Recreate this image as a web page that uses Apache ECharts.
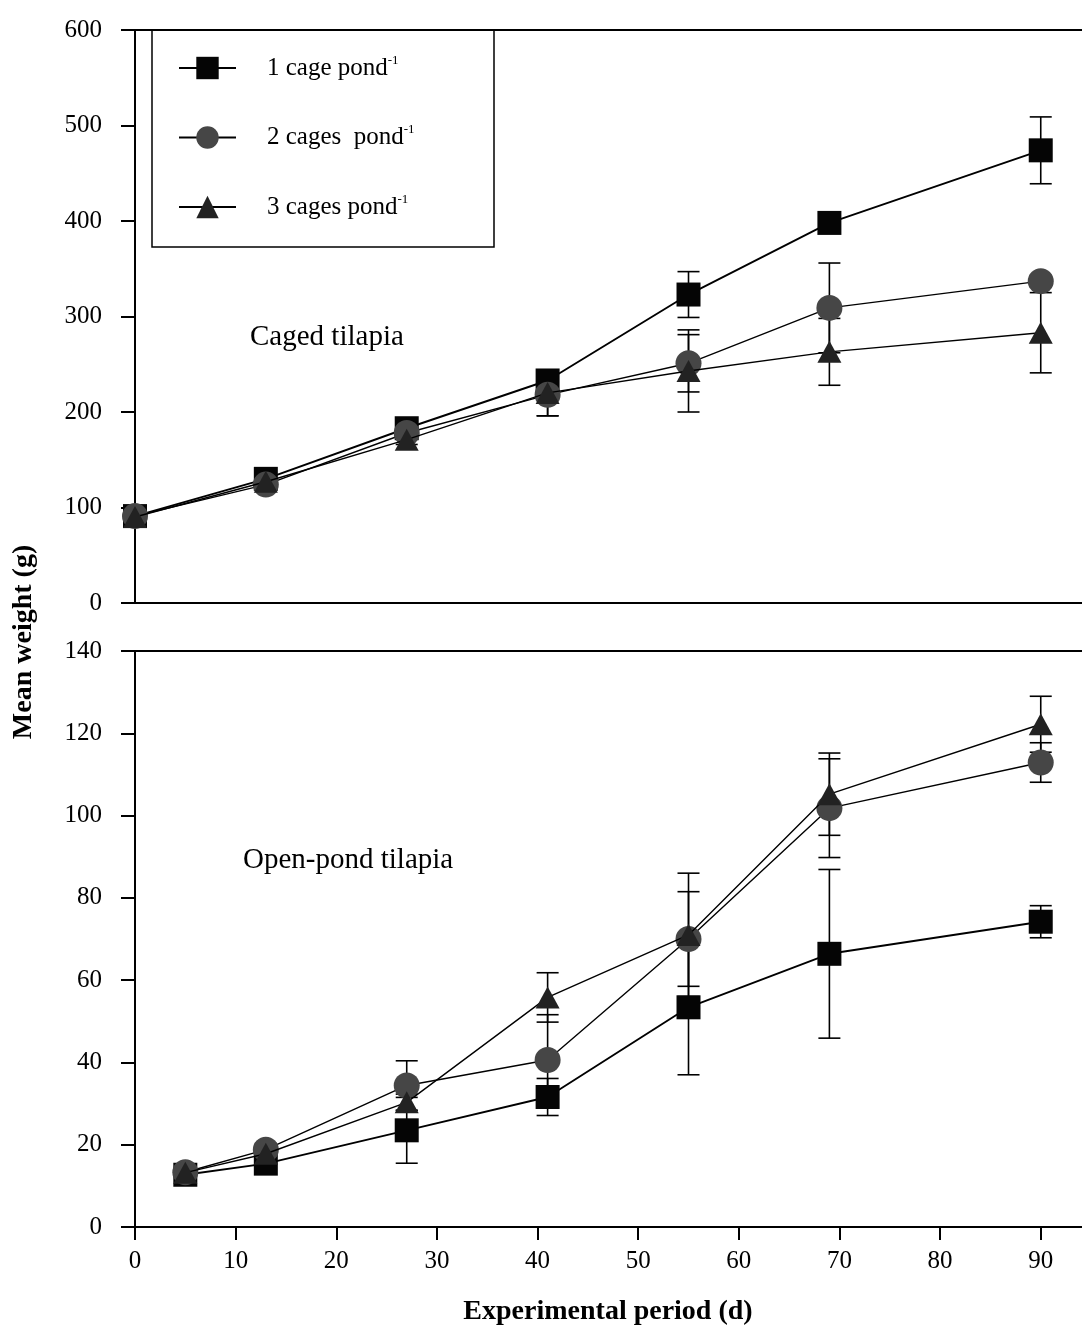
<!DOCTYPE html>
<html>
<head>
<meta charset="utf-8">
<script src="https://cdn.jsdelivr.net/npm/echarts@6/dist/echarts.min.js"></script>
<style>
  html, body { margin: 0; padding: 0; background: #fff; }
  #chart { width: 1082px; height: 1328px; }
</style>
</head>
<body>
<div id="chart"></div>
<script>
// Sampling days for each panel
const daysCaged = [0, 13, 27, 41, 55, 69, 90];
const daysOpen = [5, 13, 27, 41, 55, 69, 90];

// Caged tilapia, mean weight (g) and error (g)
const cagedOne = [91, 130, 183, 233, 323, 398, 474];
const cagedOneErr = [3, 4, 5, 5, 24, 6, 35];
const cagedTwo = [91, 124, 178, 218, 251, 309, 337];
const cagedTwoErr = [3, 4, 5, 22, 30, 47, 6];
const cagedThree = [90, 127, 171, 220, 243, 263, 283];
const cagedThreeErr = [3, 4, 5, 24, 43, 35, 42];

// Open-pond tilapia, mean weight (g) and error (g)
const openOne = [12.7, 15.4, 23.5, 31.6, 53.4, 66.4, 74.2];
const openOneErr = [1, 1.5, 8, 4.5, 16.4, 20.5, 3.9];
const openTwo = [13.3, 18.8, 34.4, 40.6, 70.0, 101.8, 112.9];
const openTwoErr = [1, 1.5, 6, 11, 11.5, 12, 4.8];
const openThree = [13.2, 17.8, 30.3, 55.8, 71.0, 105.2, 122.2];
const openThreeErr = [1, 1.5, 2, 6, 15, 10, 6.8];

// Axis ticks
const xTicks = [0, 10, 20, 30, 40, 50, 60, 70, 80, 90];
const xMax = 94.1;

// Series names and legend texts
const seriesNames = ['1 cage', '2 cages', '3 cages'];
const legendTexts = { '1 cage': '1 cage pond', '2 cages': '2 cages  pond', '3 cages': '3 cages pond' };

const FONT = '"Liberation Serif", "Times New Roman", serif';
const INK = '#000';

const markerStyles = [
  { symbol: 'rect', symbolSize: 24, color: '#050505', lineWidth: 1.9 },
  { symbol: 'circle', symbolSize: 26, color: '#464646', lineWidth: 1.4 },
  { symbol: 'triangle', symbolSize: [24, 22], color: '#222222', lineWidth: 1.4 }
];

function pairs(xs, ys) {
  return xs.map((x, i) => [x, ys[i]]);
}

function lineSeries(k, gridIdx, xs, ys) {
  const m = markerStyles[k];
  return {
    name: seriesNames[k],
    type: 'line',
    xAxisIndex: gridIdx * 2,
    yAxisIndex: gridIdx,
    data: pairs(xs, ys),
    symbol: m.symbol,
    symbolSize: m.symbolSize,
    showAllSymbol: true,
    clip: false,
    z: 3 + k,
    itemStyle: { color: m.color, opacity: 1 },
    lineStyle: { color: INK, width: m.lineWidth },
    emphasis: { disabled: true },
    animation: false
  };
}

function errorSeries(gridIdx, xs, ys, errs) {
  return {
    type: 'custom',
    xAxisIndex: gridIdx * 2,
    yAxisIndex: gridIdx,
    z: 2,
    silent: true,
    clip: false,
    data: xs.map((x, i) => [x, ys[i] - errs[i], ys[i] + errs[i]]),
    encode: { x: 0, y: [1, 2] },
    renderItem: function (params, api) {
      const x = api.value(0);
      const lo = api.coord([x, api.value(1)]);
      const hi = api.coord([x, api.value(2)]);
      const hw = 11;
      const st = { stroke: INK, lineWidth: 1.6 };
      return {
        type: 'group',
        children: [
          { type: 'line', shape: { x1: lo[0], y1: lo[1], x2: hi[0], y2: hi[1] }, style: st },
          { type: 'line', shape: { x1: lo[0] - hw, y1: lo[1], x2: lo[0] + hw, y2: lo[1] }, style: st },
          { type: 'line', shape: { x1: hi[0] - hw, y1: hi[1], x2: hi[0] + hw, y2: hi[1] }, style: st }
        ]
      };
    },
    animation: false
  };
}

function xAxes(gridIdx, showLabels) {
  return [
    {
      type: 'value', gridIndex: gridIdx, min: 0, max: xMax, interval: 10, position: 'bottom',
      axisLine: { show: true, onZero: false, lineStyle: { color: INK, width: 2 } },
      axisTick: { show: showLabels, inside: false, length: 13, customValues: xTicks, lineStyle: { color: INK, width: 2 } },
      axisLabel: {
        show: showLabels, customValues: xTicks, margin: 22, color: INK,
        fontFamily: FONT, fontSize: 25
      },
      splitLine: { show: false }
    },
    {
      type: 'value', gridIndex: gridIdx, min: 0, max: xMax, interval: 10, position: 'top',
      axisLine: { show: true, onZero: false, lineStyle: { color: INK, width: 2 } },
      axisTick: { show: false }, axisLabel: { show: false }, splitLine: { show: false }
    }
  ];
}

function yAxis(gridIdx, max, interval) {
  return {
    type: 'value', gridIndex: gridIdx, min: 0, max: max, interval: interval,
    axisLine: { show: true, onZero: false, lineStyle: { color: INK, width: 2 } },
    axisTick: { show: true, inside: false, length: 14, lineStyle: { color: INK, width: 2 } },
    axisLabel: { margin: 33, color: INK, fontFamily: FONT, fontSize: 25 },
    splitLine: { show: false }
  };
}

const chart = echarts.init(document.getElementById('chart'), null, { renderer: 'canvas' });

chart.setOption({
  backgroundColor: '#ffffff',
  animation: false,
  textStyle: { fontFamily: FONT },
  grid: [
    { left: 135, top: 30, right: 0, height: 573 },
    { left: 135, top: 651, right: 0, height: 576 }
  ],
  xAxis: [].concat(xAxes(0, false), xAxes(1, true)),
  yAxis: [yAxis(0, 600, 100), yAxis(1, 140, 20)],
  legend: {
    data: seriesNames,
    orient: 'vertical',
    left: 173,
    top: 49,
    itemWidth: 57,
    itemHeight: 28,
    itemGap: 43,
    selectedMode: false,
    textStyle: {
      color: INK, fontFamily: FONT, fontSize: 25, padding: [0, 0, 0, 26],
      rich: {
        t: { fontFamily: FONT, fontSize: 25, color: INK, lineHeight: 28 },
        s: { fontFamily: FONT, fontSize: 13, color: INK, lineHeight: 13, verticalAlign: 'top' }
      }
    },
    formatter: function (name) {
      return '{t|' + legendTexts[name] + '}{s|-1}';
    }
  },
  graphic: [
    {
      type: 'rect', z: 0,
      shape: { x: 152, y: 30, width: 342, height: 217 },
      style: { fill: 'none', stroke: INK, lineWidth: 1.5 }
    },
    {
      type: 'text', x: 250, y: 337,
      style: { text: 'Caged tilapia', fill: INK, font: '29px ' + FONT, textAlign: 'left', textVerticalAlign: 'middle' }
    },
    {
      type: 'text', x: 243, y: 860,
      style: { text: 'Open-pond tilapia', fill: INK, font: '29px ' + FONT, textAlign: 'left', textVerticalAlign: 'middle' }
    },
    {
      type: 'text', x: 24, y: 642, rotation: Math.PI / 2,
      style: { text: 'Mean weight (g)', fill: INK, font: 'bold 28px ' + FONT, textAlign: 'center', textVerticalAlign: 'middle' }
    },
    {
      type: 'text', x: 608, y: 1312,
      style: { text: 'Experimental period (d)', fill: INK, font: 'bold 28px ' + FONT, textAlign: 'center', textVerticalAlign: 'middle' }
    }
  ],
  series: [
    errorSeries(0, daysCaged, cagedOne, cagedOneErr),
    errorSeries(0, daysCaged, cagedTwo, cagedTwoErr),
    errorSeries(0, daysCaged, cagedThree, cagedThreeErr),
    errorSeries(1, daysOpen, openOne, openOneErr),
    errorSeries(1, daysOpen, openTwo, openTwoErr),
    errorSeries(1, daysOpen, openThree, openThreeErr),
    lineSeries(0, 0, daysCaged, cagedOne),
    lineSeries(1, 0, daysCaged, cagedTwo),
    lineSeries(2, 0, daysCaged, cagedThree),
    lineSeries(0, 1, daysOpen, openOne),
    lineSeries(1, 1, daysOpen, openTwo),
    lineSeries(2, 1, daysOpen, openThree)
  ]
});
</script>
</body>
</html>
